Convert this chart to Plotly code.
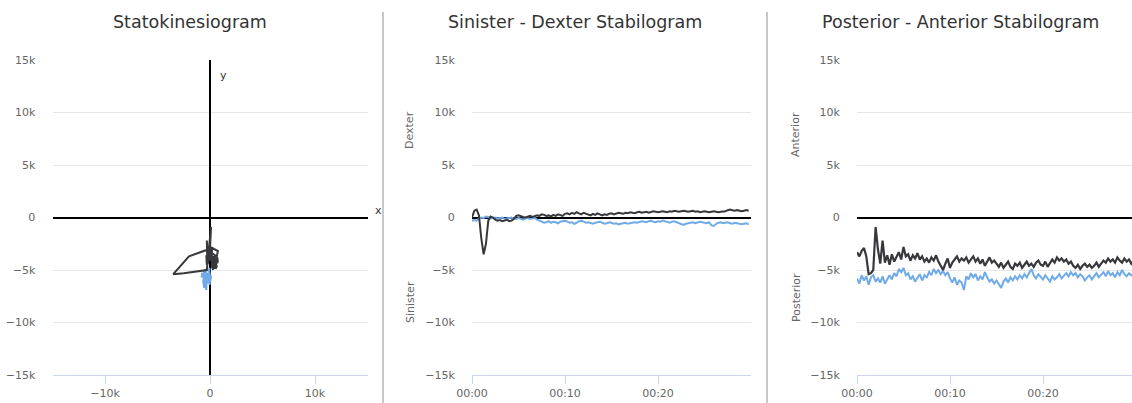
import plotly.graph_objects as go

# ---------------- data ----------------
STEP = 0.25  # seconds between samples
SD_BLACK = [0, 650, 750, 200, -2000, -3500, -2500, -300, 100, 0,
            -200, -300, -250, -350, -300, -200, -350, -300, -150, 150,
            200, 100, 50, 0, 100, 150, 50, 100, 200, 150,
            300, 250, 150, 200, 100, 250, 150, 300, 200, 150,
            350, 400, 300, 450, 350, 500, 400, 300, 450, 350,
            300, 200, 350, 250, 400, 300, 200, 300, 250, 350,
            400, 300, 350, 450, 400, 350, 450, 400, 500, 450,
            400, 500, 550, 450, 500, 550, 450, 500, 600, 550,
            500, 550, 600, 550, 500, 600, 550, 650, 600, 550,
            600, 650, 600, 550, 600, 650, 550, 600, 500, 550,
            600, 550, 500, 550, 600, 550, 500, 550, 550, 600,
            700, 750, 700, 650, 700, 650, 600, 650, 700, 650]
SD_BLUE = [-300, -250, -300, -100, 0, -50, 100, 50, -100, -50,
           0, -100, -50, 0, -150, -100, -50, 0, -100, -150,
           -50, -100, -200, -100, -50, -150, -100, -50, -200, -300,
           -400, -500, -450, -350, -500, -400, -450, -550, -400, -350,
           -300, -400, -500, -450, -600, -500, -350, -300, -400, -500,
           -450, -550, -600, -500, -450, -400, -500, -600, -550, -450,
           -500, -600, -550, -650, -600, -550, -500, -600, -550, -500,
           -450, -500, -400, -350, -400, -450, -350, -300, -400, -450,
           -350, -400, -300, -350, -450, -500, -400, -350, -450, -550,
           -650, -700, -600, -550, -500, -450, -550, -500, -400, -450,
           -500, -550, -450, -750, -800, -600, -500, -450, -550, -500,
           -450, -550, -600, -500, -550, -600, -650, -600, -550, -650]
PA_BLACK = [-3300, -3700, -3200, -2900, -3700, -5400, -5300, -5000, -900, -3000,
            -4400, -2200, -4300, -3600, -4500, -3500, -4200, -3800, -3300, -4000,
            -2800, -3700, -3500, -4100, -3600, -3900, -3400, -4000, -3700, -4200,
            -3900, -4300, -3800, -4100, -3600, -4200, -4600, -5000, -4400, -3900,
            -4800, -4300, -4000, -3700, -4200, -3900, -4100, -3800, -4300, -4000,
            -3700, -4200, -3900, -4400, -4000, -4600, -4200, -3800, -4300, -4100,
            -4400, -4700, -4300, -4800, -4500, -4200, -4700, -4900, -4400, -4600,
            -4300, -4800, -4500, -4200, -4600, -4400, -4700, -4300, -4100, -4500,
            -4600, -4200, -4700, -4400, -4000, -4300, -3800, -4100, -3900, -4200,
            -4000, -4400, -4200, -4600, -4800, -4500, -4900, -4600, -4400, -4700,
            -4500, -4800, -4600, -4300, -4700, -4400, -4100, -4300, -3900, -4200,
            -4000, -4300, -3800, -4100, -4300, -3900, -4200, -4000, -4400, -4100]
PA_BLUE = [-5800, -6300, -5500, -6000, -5600, -6400, -5700, -5500, -6100, -5800,
           -6200, -5600, -6300, -5900, -5500, -5900, -5300, -5600, -4900, -5200,
           -4800, -5500, -5300, -5900, -5600, -6100, -5700, -5400, -6000, -5500,
           -5700, -5200, -5500, -4900, -5300, -5000, -5400, -5100, -5500, -5200,
           -5800, -6200, -5700, -6400, -6000, -6200, -6900, -5600, -5900, -5300,
           -5700, -5400, -6000, -5600, -5900, -5200, -5700, -6100, -5900, -6300,
           -6000, -6400, -6700, -6100, -5800, -6200, -5700, -6000, -5600, -5900,
           -5500, -5800, -5400, -5700, -5300, -4900, -5500, -5800, -5400, -5700,
           -5900, -5500, -5800, -6100, -5600, -5900, -5700, -5400, -5800, -5500,
           -5300, -5600, -5200, -5500, -5300, -5700, -5400, -5600, -6000, -5700,
           -5500, -5900, -5600, -5300, -5700, -5400, -5200, -5600, -5100, -5500,
           -5300, -5700, -5200, -5500, -5000, -5400, -5600, -5300, -5500, -5400]
TIME = [i * STEP for i in range(len(SD_BLACK))]

Y_TICKS = [-15000, -10000, -5000, 0, 5000, 10000, 15000]
Y_TICKTEXT = ["\u221215k", "\u221210k", "\u22125k", "0", "5k", "10k", "15k"]
X1_TICKS = [-10000, 0, 10000]
X1_TICKTEXT = ["\u221210k", "0", "10k"]
T_TICKS = [0, 10, 20]
T_TICKTEXT = ["00:00", "00:10", "00:20"]
TITLES = ["Statokinesiogram", "Sinister - Dexter Stabilogram", "Posterior - Anterior Stabilogram"]

# ---------------- styling ----------------
W, H = 1132, 403
BLUE = "#70abe8"
DARK = "#38383c"
FONT = "DejaVu Sans"

def px(x):
    return x / W

def py(y):
    return 1 - y / H

fig = go.Figure()

# panel 1 - statokinesiogram
fig.add_trace(go.Scatter(x=SD_BLUE, y=PA_BLUE, mode="lines", line=dict(color=BLUE, width=2),
                         xaxis="x", yaxis="y", showlegend=False))
fig.add_trace(go.Scatter(x=SD_BLACK, y=PA_BLACK, mode="lines", line=dict(color=DARK, width=2),
                         xaxis="x", yaxis="y", showlegend=False))
# panel 2
fig.add_trace(go.Scatter(x=TIME, y=SD_BLUE, mode="lines", line=dict(color=BLUE, width=2),
                         xaxis="x2", yaxis="y2", showlegend=False))
fig.add_trace(go.Scatter(x=TIME, y=SD_BLACK, mode="lines", line=dict(color=DARK, width=2),
                         xaxis="x2", yaxis="y2", showlegend=False))
# panel 3
fig.add_trace(go.Scatter(x=TIME, y=PA_BLUE, mode="lines", line=dict(color=BLUE, width=2),
                         xaxis="x3", yaxis="y3", showlegend=False))
fig.add_trace(go.Scatter(x=TIME, y=PA_BLACK, mode="lines", line=dict(color=DARK, width=2.2),
                         xaxis="x3", yaxis="y3", showlegend=False))

ydom = [py(375), py(60)]
tickfont = dict(family=FONT, size=11, color="#666666")

def yaxis(anchor):
    return dict(domain=ydom, anchor=anchor, range=[-15000, 15000], tickvals=Y_TICKS,
                ticktext=Y_TICKTEXT, showgrid=True, gridcolor="#e6e6e6", gridwidth=1,
                zeroline=True, zerolinecolor="#000000", zerolinewidth=2,
                showline=False, ticks="outside", ticklen=14, tickcolor="rgba(0,0,0,0)",
                tickfont=tickfont, fixedrange=True, automargin=False)

def xaxis(anchor, dom, rng, tv, tt, zl):
    return dict(domain=dom, anchor=anchor, range=rng, tickvals=tv, ticktext=tt,
                showgrid=False, zeroline=zl, zerolinecolor="#000000", zerolinewidth=2,
                showline=True, linecolor="#ccd6eb", linewidth=1,
                ticks="outside", ticklen=8, tickcolor="#ccd6eb", tickfont=tickfont,
                fixedrange=True, automargin=False)

fig.update_layout(
    width=W, height=H, margin=dict(l=0, r=0, t=0, b=0, autoexpand=False),
    paper_bgcolor="white", plot_bgcolor="white",
    xaxis=xaxis("y", [px(52.5), px(367.5)], [-15000, 15000], X1_TICKS, X1_TICKTEXT, True),
    yaxis=yaxis("x"),
    xaxis2=xaxis("y2", [px(472), px(751)], [0, 30.0], T_TICKS, T_TICKTEXT, False),
    yaxis2=yaxis("x2"),
    xaxis3=xaxis("y3", [px(857), 1.0], [0, 275 / 9.3], T_TICKS, T_TICKTEXT, False),
    yaxis3=yaxis("x3"),
)

annotations = []
for cx, text in zip([190, 575, 960], TITLES):
    annotations.append(dict(x=px(cx), y=py(22), xref="paper", yref="paper", text=text,
                            showarrow=False, xanchor="center", yanchor="middle",
                            font=dict(family=FONT, size=17.5, color="#333333")))
for cx, cy, text in [(410, 130, "Dexter"), (410, 302, "Sinister"),
                     (796, 135, "Anterior"), (796, 298, "Posterior")]:
    annotations.append(dict(x=px(cx), y=py(cy), xref="paper", yref="paper", text=text,
                            showarrow=False, textangle=-90, xanchor="center", yanchor="middle",
                            font=dict(family=FONT, size=11, color="#666666")))
annotations.append(dict(x=px(373), y=py(210), xref="paper", yref="paper", text="x",
                        showarrow=False, font=dict(family=FONT, size=11, color="#333333")))
annotations.append(dict(x=px(218), y=py(67), xref="paper", yref="paper", text="y",
                        showarrow=False, font=dict(family=FONT, size=11, color="#333333")))
fig.update_layout(annotations=annotations)

fig.update_layout(shapes=[
    dict(type="line", xref="paper", yref="paper", x0=px(383), x1=px(383), y0=py(12), y1=0,
         line=dict(color="#c8c8c8", width=2)),
    dict(type="line", xref="paper", yref="paper", x0=px(767), x1=px(767), y0=py(12), y1=0,
         line=dict(color="#c8c8c8", width=2)),
])

fig.write_html("out.html", config={"displayModeBar": False},
               post_script="document.body.style.margin='0';document.body.style.overflow='hidden';")
